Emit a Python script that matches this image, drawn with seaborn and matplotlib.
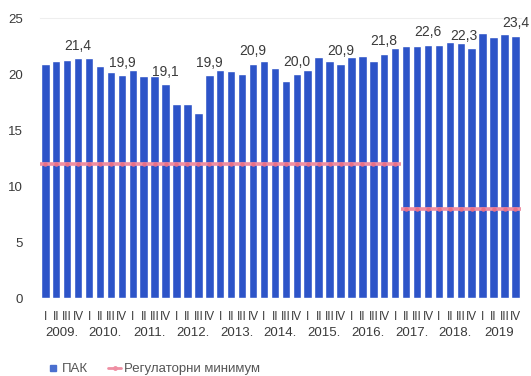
import numpy as np
import pandas as pd
import seaborn as sns
import matplotlib.pyplot as plt
from matplotlib.lines import Line2D

years = ["2009", "2010", "2011", "2012", "2013", "2014", "2015", "2016", "2017", "2018", "2019"]
quarters = ["I", "II", "III", "IV"]

# ПАК by quarter, 2009 Q1 .. 2019 Q4
pak = [20.9, 21.2, 21.3, 21.4,
       21.4, 20.7, 20.2, 19.9,
       20.4, 19.8, 19.8, 19.1,
       17.3, 17.3, 16.5, 19.9,
       20.4, 20.3, 20.0, 20.9,
       21.2, 20.5, 19.4, 20.0,
       20.4, 21.5, 21.2, 20.9,
       21.5, 21.6, 21.2, 21.8,
       22.3, 22.5, 22.5, 22.6,
       22.6, 22.9, 22.8, 22.3,
       23.7, 23.3, 23.6, 23.4]
# regulatory minimum by quarter
reg_min = [12, 12, 12, 12, 12, 12, 12, 12, 12, 12, 12,
           12, 12, 12, 12, 12, 12, 12, 12, 12, 12, 12,
           12, 12, 12, 12, 12, 12, 12, 12, 12, 12, 12,
           8, 8, 8, 8, 8, 8, 8, 8, 8, 8, 8]

bar_color = "#2d54c8"
line_color = "#ef8fa3"
text_color = "#3a3a3a"

df = pd.DataFrame({
    "period": [f"{y}-{q}" for y in years for q in quarters],
    "pak": pak,
    "reg_min": reg_min,
})
df["pos"] = np.arange(len(df))

sns.set_style("white")
plt.rcParams["font.family"] = ["Liberation Sans", "DejaVu Sans"]

fig = plt.figure(figsize=(5.31, 3.76), dpi=100)
ax = fig.add_axes([0.075, 0.207, 0.906, 0.745])

sns.barplot(data=df, x="period", y="pak", color=bar_color, saturation=1,
            width=0.77, ax=ax)

# regulatory minimum: one flat segment per run of equal values
runs = (df["reg_min"] != df["reg_min"].shift()).cumsum()
for _, g in df.groupby(runs):
    ax.hlines(g["reg_min"].iloc[0], g["pos"].iloc[0] - 0.5, g["pos"].iloc[-1] + 0.5,
              color=line_color, lw=2.6, zorder=3)
    ax.plot(g["pos"], g["reg_min"], ls="none", marker="o", ms=2.2,
            color="#e86f88", zorder=4)

# value labels on the last quarter of each year
nxt = df["pak"].shift(-1)
for i, row in df.iterrows():
    if row["period"].endswith("-IV"):
        txt = f"{row['pak']:.1f}".replace(".", ",")
        # push the label left when the next bar would cover it
        if nxt[i] > row["pak"] + 0.8:
            ax.annotate(txt, (row["pos"] + 0.5, row["pak"]), xytext=(0, 4),
                        textcoords="offset points", ha="right", va="bottom",
                        fontsize=10, color=text_color)
        else:
            ax.annotate(txt, (row["pos"], row["pak"]), xytext=(0, 4),
                        textcoords="offset points", ha="center", va="bottom",
                        fontsize=10, color=text_color)

ax.set_ylim(0, 25)
ax.set_xlim(-0.5, len(df) - 0.5)
ax.set_yticks([0, 5, 10, 15, 20, 25])
ax.set_xticks(df["pos"])
ax.set_xticklabels([q for y in years for q in quarters])
ax.tick_params(axis="x", length=0, pad=9, labelsize=8.5, colors=text_color)
ax.tick_params(axis="y", length=0, pad=12, labelsize=9.5, colors=text_color)
ax.set_xlabel("")
ax.set_ylabel("")

for i, y in enumerate(years):
    lab = y + "." if i < len(years) - 1 else y
    ax.text(i * 4 + 1.5, -0.125, lab, transform=ax.get_xaxis_transform(),
            ha="center", va="center", fontsize=9.5, color=text_color)

for s in ["left", "right", "bottom"]:
    ax.spines[s].set_visible(False)
ax.spines["top"].set_color("#eeeeee")
ax.spines["top"].set_linewidth(0.8)

handles = [
    Line2D([], [], ls="none", marker="s", ms=4, color="#4a6fcf"),
    Line2D([], [], color=line_color, lw=2, marker="o", ms=2.5),
]
fig.legend(handles, ["ПАК", "Регулаторни минимум"], loc="lower left",
           bbox_to_anchor=(0.065, -0.03), ncol=2, frameon=False, fontsize=9.5,
           handlelength=1.0, handletextpad=0.2, columnspacing=1.5,
           labelcolor="#555555")

fig.savefig("out.png", dpi=100)
